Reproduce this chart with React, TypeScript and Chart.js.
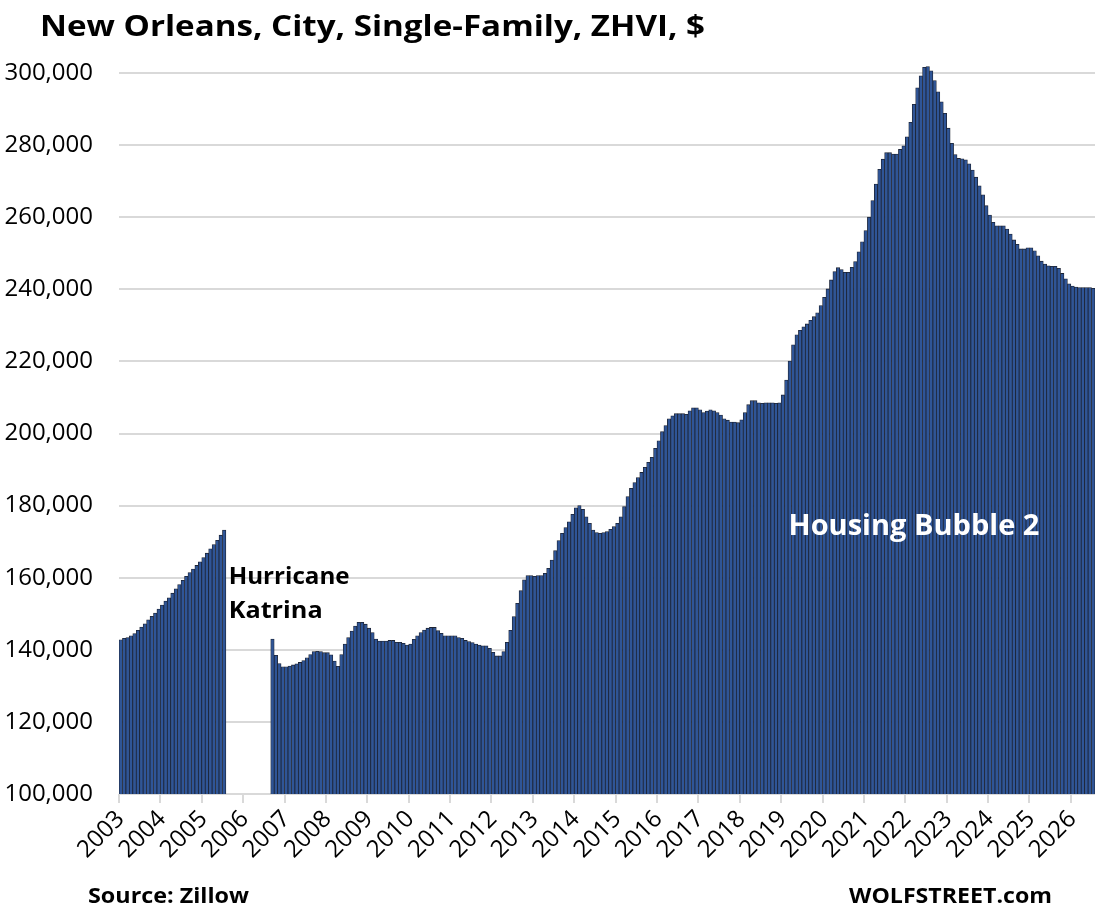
import React, { useEffect, useRef } from 'react';
import { Chart, registerables } from 'chart.js';

Chart.register(...registerables);

// Tick labels (years) and months
const years = ['2003', '2004', '2005', '2006', '2007', '2008', '2009', '2010', '2011', '2012', '2013', '2014',
  '2015', '2016', '2017', '2018', '2019', '2020', '2021', '2022', '2023', '2024', '2025', '2026'];
const months = ['01', '02', '03', '04', '05', '06', '07', '08', '09', '10', '11', '12'];

// Monthly ZHVI values, $ thousands (null = no data after Hurricane Katrina)
const v2003 = [142.8, 143.2, 143.4, 143.9, 144.5, 145.4, 146.3, 147.2, 148.3, 149.3, 150.2, 151.3];
const v2004 = [152.4, 153.5, 154.4, 155.7, 156.9, 158.1, 159.3, 160.4, 161.4, 162.4, 163.4, 164.4];
const v2005 = [165.6, 166.8, 168.0, 169.2, 170.4, 171.8, 173.2, null, null, null, null, null];
const v2006 = [null, null, null, null, null, null, null, null, 143.0, 138.5, 136.2, 135.3];
const v2007 = [135.3, 135.5, 135.8, 136.1, 136.5, 137.0, 137.8, 138.7, 139.5, 139.6, 139.5, 139.2];
const v2008 = [139.2, 138.6, 136.9, 135.4, 138.7, 141.6, 143.4, 145.2, 146.6, 147.6, 147.6, 147.1];
const v2009 = [146.0, 144.8, 143.0, 142.4, 142.4, 142.4, 142.6, 142.6, 142.1, 142.1, 141.8, 141.3];
const v2010 = [141.6, 142.9, 143.9, 144.8, 145.5, 146.0, 146.2, 146.2, 145.3, 144.6, 143.9, 143.9];
const v2011 = [143.9, 143.9, 143.4, 143.2, 142.6, 142.3, 142.0, 141.6, 141.3, 141.1, 141.1, 140.4];
const v2012 = [139.3, 138.3, 138.3, 139.5, 142.1, 145.4, 149.2, 152.9, 156.4, 159.4, 160.6, 160.6];
const v2013 = [160.4, 160.6, 160.6, 161.2, 162.6, 164.9, 167.5, 170.3, 172.3, 173.9, 175.5, 177.6];
const v2014 = [179.4, 180.0, 179.0, 176.9, 175.1, 173.2, 172.5, 172.3, 172.5, 172.8, 173.4, 174.2];
const v2015 = [175.1, 176.9, 179.7, 182.5, 184.8, 186.4, 187.8, 189.2, 190.6, 192.0, 193.4, 195.9];
const v2016 = [198.0, 200.5, 202.2, 204.1, 204.9, 205.5, 205.5, 205.5, 205.3, 206.3, 207.1, 207.1];
const v2017 = [206.6, 205.8, 206.2, 206.6, 206.3, 205.8, 205.1, 204.1, 203.7, 203.2, 203.2, 203.0];
const v2018 = [203.8, 205.8, 208.0, 209.1, 209.1, 208.5, 208.4, 208.5, 208.5, 208.5, 208.4, 208.5];
const v2019 = [210.7, 214.8, 220.1, 224.6, 227.4, 228.6, 229.6, 230.4, 231.4, 232.4, 233.5, 235.5];
const v2020 = [237.8, 240.1, 242.6, 244.9, 246.0, 245.5, 244.7, 244.7, 246.1, 247.7, 250.4, 253.2];
const v2021 = [256.3, 260.0, 264.6, 269.2, 273.3, 276.1, 277.9, 277.9, 277.5, 277.5, 278.8, 279.8];
const v2022 = [282.3, 286.3, 291.3, 295.9, 299.2, 301.6, 301.8, 300.6, 297.9, 294.8, 292.0, 288.8];
const v2023 = [284.7, 280.5, 277.4, 276.3, 276.2, 275.9, 274.8, 273.1, 271.1, 268.7, 266.2, 263.2];
const v2024 = [260.6, 258.6, 257.6, 257.6, 257.6, 256.7, 255.3, 253.7, 252.5, 251.2, 251.2, 251.5];
const v2025 = [251.5, 250.7, 249.3, 247.8, 247.0, 246.5, 246.4, 246.4, 245.8, 244.4, 242.9, 241.5];
const v2026 = [240.9, 240.6, 240.5, 240.5, 240.5, 240.5, 240.3];

const yTicks = [100000, 120000, 140000, 160000, 180000, 200000, 220000, 240000, 260000, 280000, 300000];

const TITLE = 'New Orleans, City, Single-Family, ZHVI, $';
const FONT = '"Open Sans", "Noto Sans", sans-serif';

// draw text stretched horizontally to a target width (matches the wide original typeface)
function fitText(ctx: CanvasRenderingContext2D, text: string, x: number, y: number, size: number, width: number, align: 'left' | 'center' | 'right') {
  ctx.font = `bold ${size}px ${FONT}`;
  const w = ctx.measureText(text).width;
  const sx = width / w;
  ctx.save();
  ctx.textAlign = 'left';
  let left = x;
  if (align === 'center') left = x - width / 2;
  if (align === 'right') left = x - width;
  ctx.translate(left, y);
  ctx.scale(sx, 1);
  ctx.fillText(text, 0, 0);
  ctx.restore();
}

export default function App() {
  const ref = useRef<HTMLCanvasElement | null>(null);

  useEffect(() => {
    const all = [
      ...v2003, ...v2004, ...v2005, ...v2006, ...v2007, ...v2008, ...v2009, ...v2010,
      ...v2011, ...v2012, ...v2013, ...v2014, ...v2015, ...v2016, ...v2017, ...v2018,
      ...v2019, ...v2020, ...v2021, ...v2022, ...v2023, ...v2024, ...v2025, ...v2026,
    ];
    const labels = years.flatMap((y) => months.map((m) => `${y}-${m}`)).slice(0, all.length);
    const data = all.map((v) => (v == null ? null : v * 1000));

    const textPlugin = {
      id: 'texts',
      afterDraw(chart: any) {
        const { ctx } = chart;
        const xs = chart.scales.x;
        const ys = chart.scales.y;
        ctx.save();
        ctx.fillStyle = '#000';
        ctx.textBaseline = 'alphabetic';
        fitText(ctx, TITLE, 40, 36, 29, 665, 'left');
        fitText(ctx, 'Source: Zillow', 88, 903, 21, 161, 'left');
        fitText(ctx, 'WOLFSTREET.com', 1052, 903, 21, 203, 'right');

        ctx.textBaseline = 'middle';
        const hx = xs.getPixelForValue(31);
        fitText(ctx, 'Hurricane', hx + 1, ys.getPixelForValue(160000), 23, 121, 'left');
        fitText(ctx, 'Katrina', hx + 1, ys.getPixelForValue(150500), 23, 94, 'left');

        ctx.fillStyle = '#ffffff';
        fitText(ctx, 'Housing Bubble 2', xs.getPixelForValue(230), ys.getPixelForValue(174000), 28, 251, 'center');
        ctx.restore();
      },
    };

    const chart = new Chart(ref.current as HTMLCanvasElement, {
      type: 'bar',
      data: {
        labels,
        datasets: [
          {
            data,
            backgroundColor: '#2f5597',
            borderColor: '#1c2333',
            borderWidth: 0.8,
            barPercentage: 1,
            categoryPercentage: 1,
            borderSkipped: 'start',
            clip: { left: 0, top: 20, right: 0, bottom: 0 },
          } as any,
        ],
      },
      options: {
        responsive: false,
        animation: false,
        layout: { padding: { top: 73, right: 7, left: 0, bottom: 0 } },
        plugins: {
          legend: { display: false },
          tooltip: { enabled: false },
          title: { display: false },
        },
        scales: {
          x: {
            type: 'category',
            offset: true,
            grid: {
              offset: true,
              drawOnChartArea: false,
              drawTicks: true,
              tickLength: 9,
              lineWidth: 2,
              color: (c: any) => (c.index !== undefined && c.index % 12 === 0 ? '#d9d9d9' : 'rgba(0,0,0,0)'),
            },
            border: { display: false },
            ticks: {
              autoSkip: false,
              maxRotation: 45,
              minRotation: 45,
              padding: 2,
              color: '#000',
              font: { family: FONT, size: 24 },
              callback: (_v: any, idx: number) => (idx % 12 === 0 ? labels[idx].slice(0, 4) : ''),
            },
            afterFit: (s: any) => {
              s.height = 120;
              s.paddingLeft = 0;
              s.paddingRight = 0;
            },
          },
          y: {
            min: yTicks[0],
            max: yTicks[yTicks.length - 1],
            afterBuildTicks: (s: any) => {
              s.ticks = yTicks.map((v) => ({ value: v }));
            },
            ticks: {
              padding: 26,
              color: '#000',
              font: { family: FONT, size: 24 },
              callback: (v: any) => Number(v).toLocaleString('en-US'),
            },
            grid: { color: '#d9d9d9', lineWidth: 2, drawTicks: false },
            border: { display: false },
            afterFit: (s: any) => {
              s.width = 119;
            },
          },
        },
      },
      plugins: [textPlugin],
    });
    return () => chart.destroy();
  }, []);

  return (
    <div style={{ position: 'absolute', left: 0, top: 0, width: 1102, height: 914, background: '#fff' }}>
      <canvas ref={ref} width={1102} height={914} style={{ display: 'block' }} />
    </div>
  );
}
